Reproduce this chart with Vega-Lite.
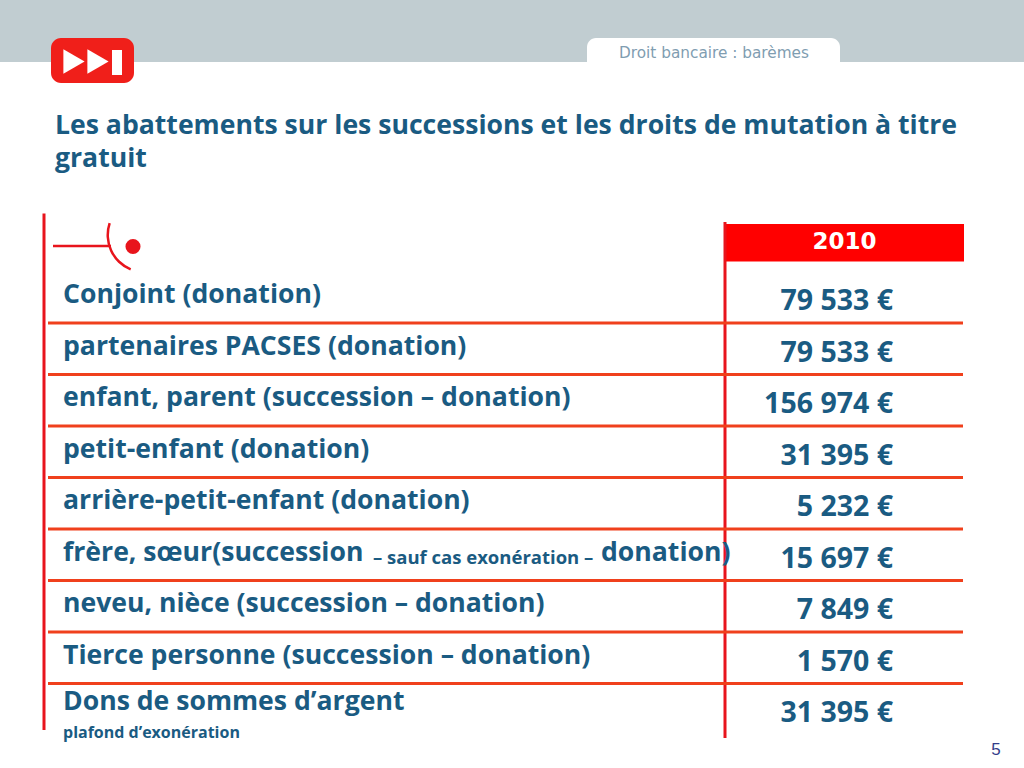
{
  "$schema": "https://vega.github.io/schema/vega-lite/v6.json",
  "width": 1024,
  "height": 768,
  "autosize": {"type": "fit", "contains": "padding"},
  "padding": 0,
  "background": "white",
  "config": {"view": {"stroke": null}, "axis": {"disable": true}, "legend": {"disable": true}},
  "datasets": {
    "rows": [
      {"row": 1, "label": "Conjoint (donation)", "montant": "79 533 €"},
      {"row": 2, "label": "partenaires PACSES (donation)", "montant": "79 533 €"},
      {"row": 3, "label": "enfant, parent (succession – donation)", "montant": "156 974 €"},
      {"row": 4, "label": "petit-enfant (donation)", "montant": "31 395 €"},
      {"row": 5, "label": "arrière-petit-enfant (donation)", "montant": "5 232 €"},
      {"row": 6, "label": "frère, sœur(succession", "note": "– sauf cas exonération –", "suite": "donation)", "montant": "15 697 €"},
      {"row": 7, "label": "neveu, nièce (succession – donation)", "montant": "7 849 €"},
      {"row": 8, "label": "Tierce personne (succession – donation)", "montant": "1 570 €"},
      {"row": 9, "label": "Dons de sommes d’argent", "sous": "plafond d’exonération", "montant": "31 395 €"}
    ]
  },
  "layer": [
    {
      "data": {"values": [{}]},
      "mark": {"type": "rect", "color": "#c1cdd1"},
      "encoding": {
        "x": {"datum": 0, "type": "quantitative", "scale": {"domain": [0, 1024], "nice": false, "zero": false}},
        "x2": {"datum": 1024},
        "y": {"datum": -4.7476, "type": "quantitative", "scale": {"domain": [-4.7476, 10.165], "reverse": true, "nice": false, "zero": false}},
        "y2": {"datum": -3.5437}
      }
    },
    {
      "data": {"values": [{}]},
      "mark": {"type": "rect", "color": "white", "cornerRadiusTopLeft": 9, "cornerRadiusTopRight": 9},
      "encoding": {
        "x": {"datum": 587, "type": "quantitative"}, "x2": {"datum": 840},
        "y": {"datum": -4.0097, "type": "quantitative"}, "y2": {"datum": -3.45}
      }
    },
    {
      "data": {"values": [{"t": "Droit bancaire : barèmes"}]},
      "mark": {"type": "text", "font": "DejaVu Sans", "fontSize": 15.3, "color": "#7f9db1", "align": "center", "baseline": "middle"},
      "encoding": {
        "x": {"datum": 714, "type": "quantitative"},
        "y": {"datum": -3.7184, "type": "quantitative"},
        "text": {"field": "t"}
      }
    },
    {
      "data": {"values": [{}]},
      "mark": {"type": "rect", "color": "#f01f1a", "cornerRadius": 10},
      "encoding": {
        "x": {"datum": 51, "type": "quantitative"}, "x2": {"datum": 134},
        "y": {"datum": -4.0097, "type": "quantitative"}, "y2": {"datum": -3.1359}
      }
    },
    {
      "data": {"values": [{}]},
      "mark": {"type": "point", "shape": "triangle-right", "filled": true, "color": "white", "opacity": 1, "size": 600},
      "encoding": {
        "x": {"datum": 74, "type": "quantitative"},
        "y": {"datum": -3.5534, "type": "quantitative"}
      }
    },
    {
      "data": {"values": [{}]},
      "mark": {"type": "point", "shape": "triangle-right", "filled": true, "color": "white", "opacity": 1, "size": 600},
      "encoding": {
        "x": {"datum": 98, "type": "quantitative"},
        "y": {"datum": -3.5534, "type": "quantitative"}
      }
    },
    {
      "data": {"values": [{}]},
      "mark": {"type": "rect", "color": "white"},
      "encoding": {
        "x": {"datum": 112, "type": "quantitative"}, "x2": {"datum": 122},
        "y": {"datum": -3.7767, "type": "quantitative"}, "y2": {"datum": -3.2913}
      }
    },
    {
      "data": {"values": [{}]},
      "mark": {"type": "text", "font": "Open Sans", "fontWeight": "bold", "fontSize": 26.6, "color": "#1a5b82", "align": "left", "baseline": "alphabetic", "lineHeight": 33},
      "encoding": {
        "x": {"datum": 55, "type": "quantitative"},
        "y": {"datum": -2.1456, "type": "quantitative"},
        "text": {"value": ["Les abattements sur les successions et les droits de mutation à titre", "gratuit"]}
      }
    },
    {
      "data": {"values": [{}]},
      "mark": {"type": "rule", "color": "#e8141c", "strokeWidth": 2.5},
      "encoding": {
        "x": {"datum": 53, "type": "quantitative"}, "x2": {"datum": 111},
        "y": {"datum": 0.029, "type": "quantitative"}
      }
    },
    {
      "data": {"values": [{}]},
      "mark": {"type": "arc", "color": "#e8141c", "theta": 3.536, "theta2": 5.034, "radius": 38.5, "radius2": 36},
      "encoding": {
        "x": {"datum": 145, "type": "quantitative"},
        "y": {"datum": -0.1845, "type": "quantitative"}
      }
    },
    {
      "data": {"values": [{}]},
      "mark": {"type": "point", "shape": "circle", "filled": true, "color": "#e8141c", "opacity": 1, "size": 227},
      "encoding": {
        "x": {"datum": 133, "type": "quantitative"},
        "y": {"datum": 0.039, "type": "quantitative"}
      }
    },
    {
      "data": {"values": [{}]},
      "mark": {"type": "rule", "color": "#e8141c", "strokeWidth": 3},
      "encoding": {
        "x": {"datum": 44, "type": "quantitative"},
        "y": {"datum": -0.6, "type": "quantitative"}, "y2": {"datum": 9.4272}
      }
    },
    {
      "data": {"values": [{}]},
      "mark": {"type": "rect", "color": "#ff0000"},
      "encoding": {
        "x": {"datum": 725, "type": "quantitative"}, "x2": {"datum": 964},
        "y": {"datum": -0.3981, "type": "quantitative"}, "y2": {"datum": 0.3301}
      }
    },
    {
      "data": {"values": [{}]},
      "mark": {"type": "rule", "color": "#e8141c", "strokeWidth": 3},
      "encoding": {
        "x": {"datum": 725, "type": "quantitative"},
        "y": {"datum": -0.4369, "type": "quantitative"}, "y2": {"datum": 9.5825}
      }
    },
    {
      "data": {"values": [{"t": "2010"}]},
      "mark": {"type": "text", "font": "DejaVu Sans", "fontWeight": "bold", "fontSize": 23, "color": "white", "align": "center", "baseline": "middle", "yOffset": 1},
      "encoding": {
        "x": {"datum": 844.5, "type": "quantitative"},
        "y": {"datum": -0.0738, "type": "quantitative"},
        "text": {"field": "t"}
      }
    },
    {
      "data": {"name": "rows"},
      "transform": [{"filter": "datum.row <= 8"}],
      "mark": {"type": "rule", "color": "#f0401c", "strokeWidth": 3, "yOffset": 27},
      "encoding": {
        "x": {"datum": 48, "type": "quantitative"}, "x2": {"datum": 963},
        "y": {"field": "row", "type": "quantitative"}
      }
    },
    {
      "data": {"name": "rows"},
      "transform": [{"filter": "datum.row <= 8"}],
      "mark": {"type": "text", "font": "Open Sans", "fontWeight": "bold", "fontSize": 26.6, "color": "#1a5b82", "align": "left", "baseline": "middle", "yOffset": -1},
      "encoding": {
        "x": {"datum": 63, "type": "quantitative"},
        "y": {"field": "row", "type": "quantitative"},
        "text": {"field": "label"}
      }
    },
    {
      "data": {"name": "rows"},
      "transform": [{"filter": "datum.row > 8"}],
      "mark": {"type": "text", "font": "Open Sans", "fontWeight": "bold", "fontSize": 26.6, "color": "#1a5b82", "align": "left", "baseline": "middle", "yOffset": -6},
      "encoding": {
        "x": {"datum": 63, "type": "quantitative"},
        "y": {"field": "row", "type": "quantitative"},
        "text": {"field": "label"}
      }
    },
    {
      "data": {"name": "rows"},
      "transform": [{"filter": "datum.note"}],
      "mark": {"type": "text", "font": "Open Sans", "fontWeight": "bold", "fontSize": 18.5, "color": "#1a5b82", "align": "left", "baseline": "middle", "yOffset": 4},
      "encoding": {
        "x": {"datum": 373, "type": "quantitative"},
        "y": {"field": "row", "type": "quantitative"},
        "text": {"field": "note"}
      }
    },
    {
      "data": {"name": "rows"},
      "transform": [{"filter": "datum.suite"}],
      "mark": {"type": "text", "font": "Open Sans", "fontWeight": "bold", "fontSize": 26.6, "color": "#1a5b82", "align": "left", "baseline": "middle", "yOffset": -1},
      "encoding": {
        "x": {"datum": 601, "type": "quantitative"},
        "y": {"field": "row", "type": "quantitative"},
        "text": {"field": "suite"}
      }
    },
    {
      "data": {"name": "rows"},
      "transform": [{"filter": "datum.sous"}],
      "mark": {"type": "text", "font": "Open Sans", "fontWeight": "bold", "fontSize": 16, "color": "#1a5b82", "align": "left", "baseline": "middle", "yOffset": 25},
      "encoding": {
        "x": {"datum": 63, "type": "quantitative"},
        "y": {"field": "row", "type": "quantitative"},
        "text": {"field": "sous"}
      }
    },
    {
      "data": {"name": "rows"},
      "mark": {"type": "text", "font": "Open Sans", "fontWeight": "bold", "fontSize": 28.5, "color": "#1a5b82", "align": "right", "baseline": "middle", "yOffset": 5},
      "encoding": {
        "x": {"datum": 893, "type": "quantitative"},
        "y": {"field": "row", "type": "quantitative"},
        "text": {"field": "montant"}
      }
    },
    {
      "data": {"values": [{"t": "5"}]},
      "mark": {"type": "text", "font": "Liberation Sans", "fontSize": 17, "color": "#333d8a", "align": "center", "baseline": "middle"},
      "encoding": {
        "x": {"datum": 996, "type": "quantitative"},
        "y": {"datum": 9.8155, "type": "quantitative"},
        "text": {"field": "t"}
      }
    }
  ]
}
